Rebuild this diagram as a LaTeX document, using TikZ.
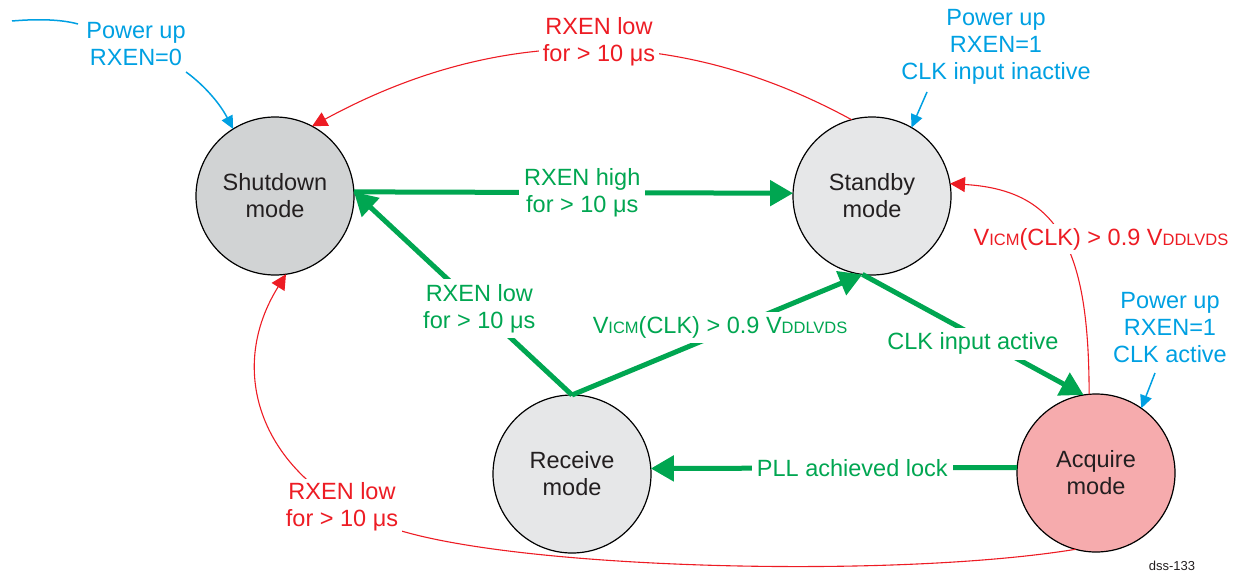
\documentclass[tikz,border=0pt]{standalone}
\usepackage{fontspec}
\setmainfont{Liberation Sans}
\usetikzlibrary{arrows.meta}
\definecolor{tigreen}{HTML}{00A651}
\definecolor{tired}{HTML}{ED1C24}
\definecolor{tiblue}{HTML}{00A0E2}
\definecolor{tigray}{HTML}{D1D3D4}
\definecolor{tilgray}{HTML}{E6E7E8}
\definecolor{tipink}{HTML}{F6ABAD}
\definecolor{titext}{HTML}{231F20}
\newcommand{\sbs}[1]{{\fontsize{16.5}{16.5}\selectfont #1}}
\begin{document}
\begin{tikzpicture}[x=1pt,y=-1pt,
  font=\fontsize{23.5}{27}\selectfont,
  state/.style={circle, draw=black, line width=1.2pt, minimum size=158pt, inner sep=0pt, outer sep=0pt, align=center, text=titext},
  garrow/.style={draw=tigreen, line width=5pt, -{Triangle[length=23pt,width=25pt]}},
  rarrow/.style={draw=tired, line width=1.1pt, -{Triangle[length=15pt,width=15pt]}},
  barrow/.style={draw=tiblue, line width=1.5pt, -{Triangle[length=13pt,width=12pt]}},
  glabel/.style={text=tigreen, fill=white, align=center, inner sep=5pt},
  rlabel/.style={text=tired, fill=white, align=center, inner sep=4pt},
  blabel/.style={text=tiblue, align=center, inner sep=0pt},
]
\useasboundingbox (0,0) rectangle (1236,573);

% states
\node[state, fill=tigray]  (sd) at (275,196) {Shutdown\\mode};
\node[state, fill=tilgray] (sb) at (872,196) {Standby\\mode};
\node[state, fill=tilgray] (rc) at (572,474) {Receive\\mode};
\node[state, fill=tipink]  (aq) at (1096,473) {Acquire\\mode};

% red transitions
\draw[rarrow] (sb.105) .. controls (678,25) and (498,25) .. (sd.62);
\draw[rarrow] (aq.95) .. controls (1089,250) and (1060,190) .. (sb.9);
\draw[rarrow] (aq.255) .. controls (900,578) and (540,570) .. (405,532)
                      .. controls (270,494) and (220,380) .. (sd.278);
\node[rlabel] (r1) at (599,42) {RXEN low\\for > 10 μs};
\node[rlabel] (r2) at (1101,239) {V\sbs{ICM}(CLK) > 0.9 V\sbs{DDLVDS}};
\node[rlabel] (r3) at (342,507) {RXEN low\\for > 10 μs};

% green transitions
\draw[garrow] (sd.3) -- node[glabel, pos=0.52] (g1) {RXEN high\\for > 10 μs} (sb.178);
\draw[garrow] (rc.north) -- node[glabel, pos=0.425] (g2) {RXEN low\\for > 10 μs} (sd.3);
\draw[garrow] (rc.north) -- node[glabel, pos=0.51, yshift=6pt] (g3) {V\sbs{ICM}(CLK) > 0.9 V\sbs{DDLVDS}} (sb.263);
\draw[garrow] (sb.263) -- node[glabel, pos=0.5, yshift=-9pt] (g4) {CLK input active} (aq.99);
\draw[garrow] (aq.176) -- node[glabel, pos=0.45] (g5) {PLL achieved lock} (rc.4);

% blue power-up notes
\coordinate (f0) at (12,21);
\coordinate (f1) at (78,24);
\draw[tiblue, line width=1.5pt] (f0) .. controls (35,19) and (60,19) .. (f1);
\node[blabel] (p0) at (136,44) {Power up\\RXEN=0};
\coordinate (b0s) at (186,72);
\draw[barrow] (b0s) .. controls (200,82) and (218,100) .. (sd.122);

\node[blabel] (p1) at (996,47) {Power up\\RXEN=1\\CLK input inactive};
\coordinate (b1s) at (927,92);
\draw[barrow] (b1s) -- (sb.60);

\node[blabel] (p2) at (1170,328) {Power up\\RXEN=1\\CLK active};
\coordinate (b2s) at (1155,373);
\draw[barrow] (b2s) -- (aq.55);

\node[text=titext, font=\fontsize{13}{15}\selectfont, inner sep=0pt] (id) at (1172,566) {dss-133};
\end{tikzpicture}
\end{document}
